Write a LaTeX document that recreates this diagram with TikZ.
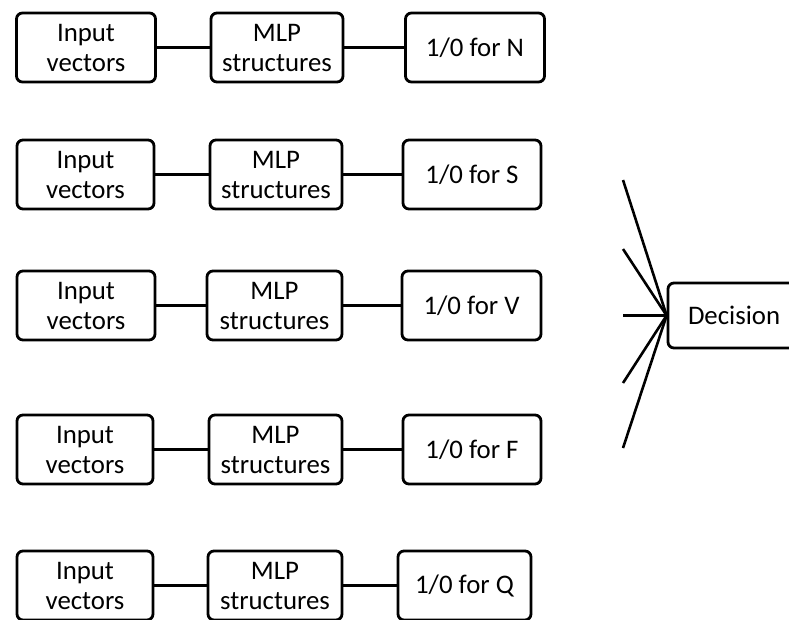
\documentclass[tikz,border=0pt]{standalone}
\usepackage{fontspec}
\setmainfont{Carlito}
\begin{document}
\begin{tikzpicture}[x=1pt,y=-1pt,
  box/.style={draw=black, line width=2.8pt, rounded corners=6pt, fill=white,
    minimum height=69pt, inner sep=0pt, align=center,
    font=\fontsize{26.8}{30}\selectfont},
  link/.style={draw=black, line width=2.6pt}]
\useasboundingbox (0,0) rectangle (789,619);
\clip (0,0) rectangle (789,619);

% row 1
\node[box, minimum width=139pt] (in1)  at (86,47.5)    {Input\\vectors};
\node[box, minimum width=132pt] (mlp1) at (277,47.5)   {MLP\\structures};
\node[box, minimum width=139pt] (out1) at (475,47.5)   {1/0 for N};
% row 2
\node[box, minimum width=137pt] (in2)  at (85.5,174.5) {Input\\vectors};
\node[box, minimum width=132pt] (mlp2) at (276,174.5)  {MLP\\structures};
\node[box, minimum width=138pt] (out2) at (472,174.5)  {1/0 for S};
% row 3
\node[box, minimum width=138pt] (in3)  at (86,305.5) {Input\\vectors};
\node[box, minimum width=135pt] (mlp3) at (274.5,305.5) {MLP\\structures};
\node[box, minimum width=139pt] (out3) at (471.5,305.5) {1/0 for V};
% row 4
\node[box, minimum width=136pt] (in4)  at (85,449.5)   {Input\\vectors};
\node[box, minimum width=133pt] (mlp4) at (275.5,449.5) {MLP\\structures};
\node[box, minimum width=138pt] (out4) at (472,449.5)  {1/0 for F};
% row 5
\node[box, minimum width=136pt] (in5)  at (85,585.5) {Input\\vectors};
\node[box, minimum width=134pt] (mlp5) at (275,585.5) {MLP\\structures};
\node[box, minimum width=133pt] (out5) at (464.5,585.5) {1/0 for Q};

\foreach \i in {1,...,5}{
  \draw[link] (in\i.east) -- (mlp\i.west);
  \draw[link] (mlp\i.east) -- (out\i.west);
}

% decision node and its incoming lines
\node[box, minimum width=142pt, minimum height=65pt, text width=120pt, align=left]
  (dec) at (739,315.5) {\hspace*{9pt}Decision};
\coordinate (d1) at (623,180);
\coordinate (d2) at (623,249);
\coordinate (d3) at (623,315.5);
\coordinate (d4) at (623,383);
\coordinate (d5) at (623,448);
\foreach \j in {1,...,5}{
  \draw[link] (d\j) -- (dec.west);
}
\end{tikzpicture}
\end{document}
